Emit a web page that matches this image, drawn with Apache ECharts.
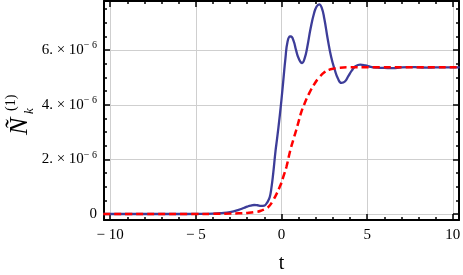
<!DOCTYPE html>
<html><head><meta charset="utf-8">
<script src="https://cdn.jsdelivr.net/npm/echarts@6/dist/echarts.min.js"></script>
<style>html,body{margin:0;padding:0;background:#fff}#c{width:463px;height:275px}</style>
</head><body><div id="c"></div>
<script>
// values in units of 1e-6
const tBlue = [-10.4,-6,-5,-4,-3.5,-3,-2.5,-2.2,-2,-1.8,-1.6,-1.4,-1.2,-1.0,-0.87,-0.75,-0.68,-0.6,-0.49,-0.35,-0.26,-0.1,0,0.1,0.23,0.35,0.5,0.55,0.7,0.85,1.0,1.2,1.35,1.5,1.7,1.9,2.05,2.2,2.35,2.5,2.7,2.9,3.1,3.3,3.5,3.7,3.9,4.1,4.3,4.6,4.9,5.2,5.6,6.0,6.5,7.0,7.5,8,8.5,9,10.4];
const vBlue = [0,0,0.002,0.01,0.03,0.07,0.15,0.22,0.27,0.31,0.33,0.32,0.3,0.31,0.39,0.52,0.63,0.9,1.45,2.3,2.75,3.6,4.2,4.85,5.7,6.3,6.5,6.5,6.35,6.0,5.7,5.53,5.7,6.1,6.8,7.35,7.6,7.68,7.55,7.15,6.4,5.75,5.3,4.95,4.8,4.85,5.05,5.25,5.4,5.47,5.44,5.39,5.36,5.35,5.34,5.37,5.38,5.37,5.36,5.37,5.37];
const tRed = [-10.4,-5,-4,-3,-2.5,-2,-1.5,-1.2,-0.87,-0.7,-0.49,-0.3,-0.1,0,0.1,0.29,0.5,0.68,0.85,0.97,1.15,1.35,1.6,1.94,2.2,2.52,2.8,3.0,3.3,4,5,10.4];
const vRed = [0,0,0.005,0.015,0.025,0.04,0.075,0.12,0.21,0.3,0.5,0.72,1.0,1.15,1.35,1.73,2.3,2.7,3.05,3.32,3.72,4.05,4.4,4.78,5.0,5.2,5.29,5.32,5.35,5.37,5.37,5.37];
const xMajor = [-10,-5,0,5,10];
const xMinor = [-9,-8,-7,-6,-4,-3,-2,-1,1,2,3,4,6,7,8,9];
const yMajor = [0,2,4,6];
const yMinor = [0.5,1,1.5,2.5,3,3.5,4.5,5,5.5,6.5,7,7.5];
const xTickLabels = ['\u2212 10','\u2212 5','0','5','10'];

const X0=-10.36, X1=10.36, Y0=-0.22, Y1=7.8;
const serif = '"Liberation Serif","DejaVu Serif",serif';
function xAx(pos, ticks, len, main){
  return {type:'value',min:X0,max:X1,position:pos,
    axisLine:{show:main,onZero:false,lineStyle:{color:'#000',width:2}},
    axisTick:{show:true,inside:true,length:len,customValues:ticks,lineStyle:{color:'#000',width:1.5}},
    axisLabel:{show:main&&pos==='bottom',customValues:xMajor,margin:8,color:'#000',fontFamily:serif,fontSize:15,
      formatter:v=>xTickLabels[xMajor.indexOf(Math.round(v))]||''},
    splitLine:{show:main&&pos==='bottom',lineStyle:{color:'#cfcfcf',width:1}},
    name: (main&&pos==='bottom')?'t':'', nameLocation:'middle', nameGap:34,
    nameTextStyle:{color:'#000',fontFamily:serif,fontSize:20}};
}
function yAx(pos, ticks, len, main){
  return {type:'value',min:Y0,max:Y1,position:pos,
    axisLine:{show:main,onZero:false,lineStyle:{color:'#000',width:2}},
    axisTick:{show:true,inside:true,length:len,customValues:ticks,lineStyle:{color:'#000',width:1.5}},
    axisLabel:{show:main&&pos==='left',customValues:yMajor,margin:7,color:'#000',fontFamily:serif,fontSize:15,
      formatter:v=>{const r=Math.round(v); return r===0?'{m|0}':'{m|'+r+'. \u00d7 10}{s|\u2212 6}';},
      rich:{m:{fontFamily:serif,fontSize:15,color:'#000'},s:{fontFamily:serif,fontSize:10,color:'#000',verticalAlign:'top',padding:[0,0,9,0]}}},
    splitLine:{show:main&&pos==='left',lineStyle:{color:'#cfcfcf',width:1}}};
}
const chart = echarts.init(document.getElementById('c'));
chart.setOption({
  animation:false,
  grid:{left:104,right:4,top:1,bottom:55,containLabel:false,outerBoundsMode:'none'},
  xAxis:[xAx('bottom',xMajor,6,true),xAx('bottom',xMinor,3,false),xAx('top',xMajor,6,true),xAx('top',xMinor,3,false)],
  yAxis:[yAx('left',yMajor,6,true),yAx('left',yMinor,3,false),yAx('right',yMajor,6,true),yAx('right',yMinor,3,false)],
  series:[
    {type:'line',data:tBlue.map((t,i)=>[t,vBlue[i]]),smooth:0.5,showSymbol:false,clip:true,
     lineStyle:{color:'#3d3d99',width:2.3},z:3},
    {type:'line',data:tRed.map((t,i)=>[t,vRed[i]]),smooth:0.5,showSymbol:false,clip:true,
     lineStyle:{color:'#ff0000',width:2.5,type:[7,4]},z:4}
  ],
  graphic:[{type:'group',x:33,y:135,rotation:Math.PI/2,children:[
    {type:'text',x:0,y:0,style:{text:'\u00d1',font:'italic 26px '+serif,fill:'#000',textVerticalAlign:'bottom',textAlign:'left'}},
    {type:'text',x:21,y:3,style:{text:'k',font:'italic 13px '+serif,fill:'#000',textVerticalAlign:'bottom',textAlign:'left'}},
    {type:'text',x:24,y:-15,style:{text:'(1)',font:'14px '+serif,fill:'#000',textVerticalAlign:'bottom',textAlign:'left'}}
  ]}]
});
</script></body></html>
